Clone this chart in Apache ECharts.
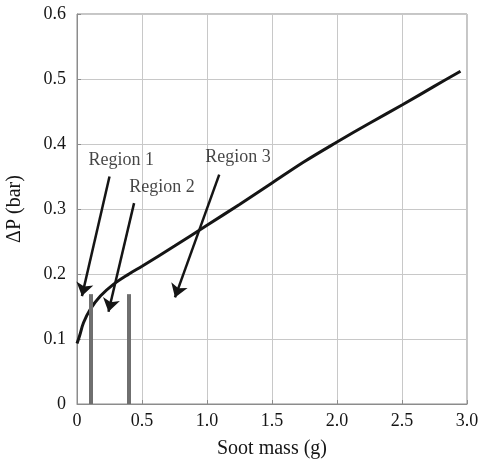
<!DOCTYPE html>
<html>
<head>
<meta charset="utf-8">
<script src="https://cdn.jsdelivr.net/npm/echarts@6/dist/echarts.min.js"></script>
<style>
  html, body { margin: 0; padding: 0; background: #fff; }
  #chart { width: 482px; height: 461px; }
</style>
</head>
<body>
<div id="chart"></div>
<script>
// Pressure drop across the filter as soot accumulates
const sootMass = [0, 0.02, 0.05, 0.1, 0.18, 0.28, 0.4, 0.5, 0.75, 1.0, 1.25, 1.5, 1.75, 2.0, 2.25, 2.5, 2.75, 2.95];
const deltaP   = [0.093, 0.105, 0.125, 0.145, 0.166, 0.184, 0.2, 0.212, 0.243, 0.275, 0.307, 0.340, 0.373, 0.403, 0.432, 0.46, 0.489, 0.512];

// Region boundaries (vertical markers) and their height
const boundaryMass = [0.107, 0.40];
const boundaryTop = 0.169;

// Region annotations: label position, arrow tail and arrow head
const regionNames = ['Region 1', 'Region 2', 'Region 3'];
const labelPos   = [[0.34, 0.375], [0.654, 0.333], [1.238, 0.380]];
const arrowTail  = [[0.25, 0.350], [0.439, 0.309], [1.094, 0.353]];
const arrowHead  = [[0.038, 0.166], [0.242, 0.142], [0.754, 0.164]];

const xTicks = [0, 0.5, 1.0, 1.5, 2.0, 2.5, 3.0];
const yTicks = [0, 0.1, 0.2, 0.3, 0.4, 0.5, 0.6];

const serif = 'Liberation Serif';
const fmt = v => (v === 0 ? '0' : v.toFixed(1));

const chart = echarts.init(document.getElementById('chart'), null, { renderer: 'canvas' });

chart.setOption({
  animation: false,
  backgroundColor: '#fff',
  grid: {
    left: 77, top: 14, width: 390, height: 390,
    containLabel: false, outerBoundsMode: 'none',
    show: true, borderColor: '#8c8c8c', borderWidth: 1
  },
  xAxis: {
    type: 'value',
    min: xTicks[0], max: xTicks[xTicks.length - 1], interval: 0.5,
    name: 'Soot mass (g)', nameLocation: 'middle', nameGap: 35,
    nameTextStyle: { fontFamily: serif, fontSize: 20, color: '#151515' },
    axisLine: { show: true, lineStyle: { color: '#8c8c8c', width: 1 } },
    axisTick: { show: true, inside: true, length: 4, lineStyle: { color: '#8c8c8c' } },
    axisLabel: { fontFamily: serif, fontSize: 18, color: '#151515', margin: 8, formatter: fmt },
    splitLine: { show: true, lineStyle: { color: '#c8c8c8', width: 1 } }
  },
  yAxis: {
    type: 'value',
    min: yTicks[0], max: yTicks[yTicks.length - 1], interval: 0.1,
    name: 'ΔP (bar)', nameLocation: 'middle', nameGap: 52,
    nameTextStyle: { fontFamily: serif, fontSize: 20, color: '#151515' },
    axisLine: { show: true, lineStyle: { color: '#8c8c8c', width: 1 } },
    axisTick: { show: true, inside: true, length: 4, lineStyle: { color: '#8c8c8c' } },
    axisLabel: { fontFamily: serif, fontSize: 18, color: '#151515', margin: 11, formatter: fmt },
    splitLine: { show: true, lineStyle: { color: '#c8c8c8', width: 1 } }
  },
  series: [
    {
      name: 'boundaries',
      type: 'line',
      data: [],
      silent: true,
      markLine: {
        silent: true,
        symbol: ['none', 'none'],
        label: { show: false },
        lineStyle: { color: '#6f6f6f', width: 4, type: 'solid' },
        data: boundaryMass.map(m => [{ coord: [m, 0] }, { coord: [m, boundaryTop] }])
      }
    },
    {
      name: 'ΔP',
      type: 'line',
      smooth: 0.35,
      showSymbol: false,
      data: sootMass.map((m, i) => [m, deltaP[i]]),
      lineStyle: { color: '#151515', width: 3 },
      z: 3
    },
    {
      name: 'arrows',
      type: 'line',
      data: [],
      silent: true,
      markLine: {
        silent: true,
        symbol: ['none', 'arrow'],
        symbolSize: 13,
        label: { show: false },
        lineStyle: { color: '#151515', width: 2.5, type: 'solid' },
        itemStyle: { color: '#151515' },
        data: arrowTail.map((t, i) => [{ coord: t }, { coord: arrowHead[i] }])
      },
      z: 4
    },
    {
      name: 'regions',
      type: 'scatter',
      symbolSize: 0,
      silent: true,
      data: regionNames.map((n, i) => ({ name: n, value: labelPos[i] })),
      label: {
        show: true, position: 'inside', formatter: p => p.name,
        fontFamily: serif, fontSize: 18, color: '#151515'
      },
      z: 5
    }
  ]
});
</script>
</body>
</html>
